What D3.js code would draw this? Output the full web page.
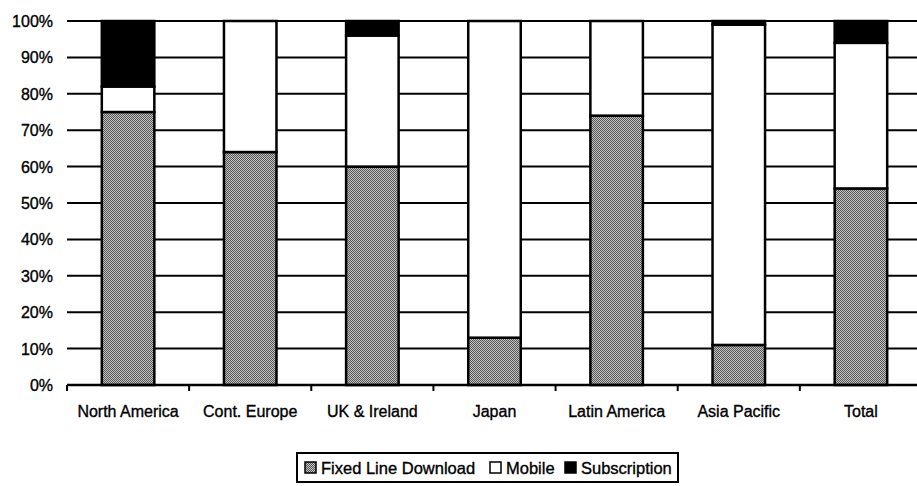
<!DOCTYPE html>
<html>
<head>
<meta charset="utf-8">
<script src="https://cdn.jsdelivr.net/npm/d3@7"></script>
<style>
  body { margin: 0; background: #fff; }
  text { font-family: "Liberation Sans", Arial, sans-serif; fill: #000; stroke: #000; stroke-width: 0.35; }
</style>
</head>
<body>
<svg id="svg" width="917" height="486"></svg>
<script>
const width = 917;
const height = 486;

const categories = ['North America', 'Cont. Europe', 'UK & Ireland', 'Japan', 'Latin America', 'Asia Pacific', 'Total'];
const fixedLine = [75, 64, 60, 13, 74, 11, 54];
const mobile = [7, 36, 36, 87, 26, 88, 40];
const subscription = [18, 0, 4, 0, 0, 1, 6];
const seriesNames = ['Fixed Line Download', 'Mobile', 'Subscription'];
const yTicks = [0, 10, 20, 30, 40, 50, 60, 70, 80, 90, 100];

const paddings = { left: 67, top: 21, right: -5, bottom: 101 };

const svg = d3.select('#svg');

// checker dither for the fixed-line grey
const defs = svg.append('defs');
const pat = defs.append('pattern')
  .attr('id', 'dither')
  .attr('width', 2).attr('height', 2)
  .attr('patternUnits', 'userSpaceOnUse');
pat.append('rect').attr('width', 2).attr('height', 2).attr('fill', '#c4c4c4');
pat.append('rect').attr('x', 0).attr('y', 0).attr('width', 1).attr('height', 1).attr('fill', '#555');
pat.append('rect').attr('x', 1).attr('y', 1).attr('width', 1).attr('height', 1).attr('fill', '#555');

const colors = ['url(#dither)', '#fff', '#000'];

const rows = categories.map((c, i) => ({
  cat: c,
  'Fixed Line Download': fixedLine[i],
  'Mobile': mobile[i],
  'Subscription': subscription[i]
}));
const stacked = d3.stack().keys(seriesNames)(rows);

const xScale = d3.scaleBand()
  .domain(categories)
  .range([paddings.left, width - paddings.right])
  .paddingInner(0.57)
  .paddingOuter(0.285);

const xTickScale = d3.scaleBand()
  .domain(categories)
  .range([paddings.left, width - paddings.right]);

const yScale = d3.scaleLinear()
  .domain([0, 100])
  .range([height - paddings.bottom, paddings.top]);

// gridlines
svg.append('g')
  .selectAll('line')
  .data(yTicks.filter(d => d > 0))
  .join('line')
  .attr('x1', paddings.left)
  .attr('x2', width)
  .attr('y1', d => yScale(d))
  .attr('y2', d => yScale(d))
  .attr('stroke', '#000')
  .attr('stroke-width', 2);

// y labels
svg.append('g')
  .selectAll('text')
  .data(yTicks)
  .join('text')
  .attr('x', 53)
  .attr('y', d => yScale(d) + 6)
  .attr('text-anchor', 'end')
  .attr('font-size', 16)
  .text(d => d + '%');

// bars
svg.append('g')
  .selectAll('g')
  .data(stacked)
  .join('g')
  .attr('fill', (d, i) => colors[i])
  .selectAll('rect')
  .data(d => d.filter(p => p[1] - p[0] > 0))
  .join('rect')
  .attr('x', d => xScale(d.data.cat))
  .attr('y', d => yScale(d[1]))
  .attr('width', xScale.bandwidth())
  .attr('height', d => yScale(d[0]) - yScale(d[1]))
  .attr('stroke', '#000')
  .attr('stroke-width', 2.5);

// x axis
const xAxisG = svg.append('g')
  .attr('transform', 'translate(0,' + (height - paddings.bottom) + ')');
xAxisG.append('line')
  .attr('x1', paddings.left).attr('x2', width)
  .attr('stroke', '#000').attr('stroke-width', 2.5);
xAxisG.selectAll('.tk')
  .data(categories)
  .join('line')
  .attr('class', 'tk')
  .attr('x1', d => xTickScale(d))
  .attr('x2', d => xTickScale(d))
  .attr('y1', 0).attr('y2', 6)
  .attr('stroke', '#000').attr('stroke-width', 2);
xAxisG.selectAll('text')
  .data(categories)
  .join('text')
  .attr('x', d => xScale(d) + xScale.bandwidth() / 2)
  .attr('y', 32)
  .attr('text-anchor', 'middle')
  .attr('font-size', 16)
  .text(d => d);

// legend
const legend = svg.append('g').attr('transform', 'translate(297,453)');
legend.append('rect')
  .attr('width', 381).attr('height', 29)
  .attr('fill', '#fff').attr('stroke', '#000').attr('stroke-width', 2);
const legendX = [8, 193, 268];
const items = legend.selectAll('g.item')
  .data(seriesNames)
  .join('g')
  .attr('class', 'item')
  .attr('transform', (d, i) => 'translate(' + legendX[i] + ',9)');
items.append('rect')
  .attr('width', 11).attr('height', 11)
  .attr('fill', (d, i) => colors[i])
  .attr('stroke', '#000').attr('stroke-width', 1.5);
items.append('text')
  .attr('x', 16).attr('y', 11.5)
  .attr('font-size', 16.5)
  .text(d => d);
</script>
</body>
</html>
